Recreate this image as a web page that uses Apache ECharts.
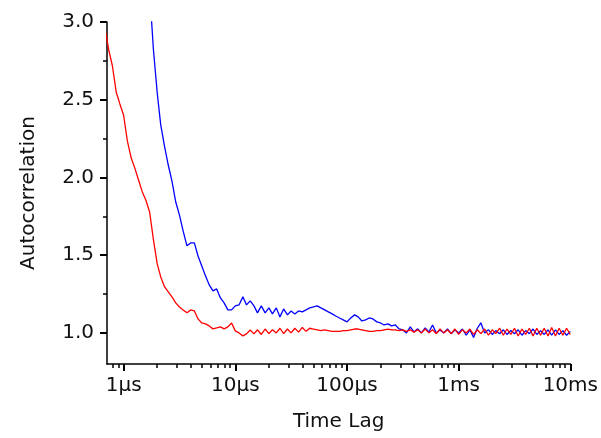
<!DOCTYPE html>
<html><head><meta charset="utf-8">
<script src="https://cdn.jsdelivr.net/npm/echarts@6/dist/echarts.min.js"></script>
<style>html,body{margin:0;padding:0;background:#fff}#c{width:601px;height:438px}</style>
</head><body><div id="c"></div>
<script>
// Time lag in microseconds
const lagUs = [0.681, 0.736, 0.794, 0.858, 0.926,
  1.00, 1.08, 1.17, 1.26, 1.36, 1.47, 1.58, 1.71, 1.85, 2.00, 2.15, 2.33, 2.51, 2.71, 2.93, 3.16, 3.41, 3.69, 3.98, 4.30, 4.64, 5.01, 5.41, 5.84, 6.31, 6.81, 7.36, 7.94, 8.58, 9.26,
  10.0, 10.8, 11.7, 12.6, 13.6, 14.7, 15.8, 17.1, 18.5, 20.0, 21.5, 23.3, 25.1, 27.1, 29.3, 31.6, 34.1, 36.9, 39.8, 43.0, 46.4, 50.1, 54.1, 58.4, 63.1, 68.1, 73.6, 79.4, 85.8, 92.6,
  100, 108, 117, 126, 136, 147, 158, 171, 185, 200, 215, 233, 251, 271, 293, 316, 341, 369, 398, 430, 464, 501, 541, 584, 631, 681, 736, 794, 858, 926,
  1000, 1080, 1170, 1260, 1360, 1470, 1580, 1710, 1850, 2000, 2150, 2330, 2510, 2710, 2930, 3160, 3410, 3690, 3980, 4300, 4640, 5010, 5410, 5840, 6310, 6810, 7360, 7940, 8580, 9260,
  10000];

const redVals = [2.96, 2.82, 2.717, 2.55, 2.473, 2.40, 2.235, 2.125, 2.06, 1.984, 1.907,
  1.855, 1.778, 1.598, 1.444, 1.36, 1.296, 1.264, 1.232, 1.193, 1.167,
  1.148, 1.129, 1.148, 1.141, 1.09, 1.064, 1.058, 1.045, 1.026, 1.032,
  1.039, 1.026, 1.039, 1.064, 1.013, 1.0, 0.981, 0.994, 1.019, 0.994,
  1.02, 0.99, 1.025, 0.995, 1.02, 1.0, 1.03, 0.995, 1.025, 1.0,
  1.03, 1.005, 1.035, 1.01, 1.03, 1.025, 1.02, 1.015, 1.02, 1.015,
  1.01, 1.01, 1.01, 1.015, 1.015, 1.02, 1.025, 1.025, 1.02, 1.015,
  1.01, 1.01, 1.015, 1.015, 1.02, 1.025, 1.02, 1.02, 1.015, 1.02,
  1.01, 1.02, 1.005, 1.02, 1.0, 1.025, 1.0, 1.02, 0.995, 1.025,
  1.0, 1.02, 0.995, 1.025, 0.99, 1.02, 1.0, 1.025, 0.99, 1.02,
  0.995, 1.025, 0.985, 1.02, 0.995, 1.03, 0.985, 1.025, 0.99, 1.03,
  0.98, 1.025, 0.99, 1.03, 0.98, 1.03, 0.985, 1.03, 0.98, 1.035,
  0.98, 1.03, 0.985, 1.03, 0.99];

const blueVals = [null, null, null, null, null, null, null, null, null, null, null, null,
  3.2, 2.82, 2.543, 2.338, 2.196, 2.08, 1.977, 1.842, 1.759,
  1.656, 1.56, 1.579, 1.579, 1.495, 1.431, 1.367, 1.309, 1.27, 1.283,
  1.225, 1.193, 1.148, 1.148, 1.174, 1.18, 1.232, 1.18, 1.206, 1.174,
  1.129, 1.174, 1.129, 1.161, 1.122, 1.161, 1.103, 1.154, 1.116, 1.141,
  1.122, 1.141, 1.135, 1.148, 1.161, 1.167, 1.174, 1.161, 1.148, 1.135,
  1.122, 1.109, 1.096, 1.084, 1.071, 1.096, 1.116, 1.103, 1.077, 1.084,
  1.096, 1.09, 1.071, 1.064, 1.051, 1.058, 1.045, 1.051, 1.026, 1.019,
  1.0, 1.039, 1.006, 1.026, 1.0, 1.032, 1.006, 1.051, 1.0, 1.019,
  1.0, 1.025, 0.995, 1.02, 1.0, 1.025, 0.985, 1.02, 0.97, 1.03,
  1.065, 1.0, 1.02, 0.99, 1.015, 0.995, 1.02, 0.99, 1.015, 0.995,
  1.02, 0.985, 1.015, 0.995, 1.025, 0.99, 1.015, 0.99, 1.02, 0.985,
  1.02, 0.99, 1.015, 0.985, 1.01];

const xMajorUs = [1, 10, 100, 1000, 10000];
const xMajorLabels = ['1\u00b5s', '10\u00b5s', '100\u00b5s', '1ms', '10ms'];
const xMinorUs = [0.8, 0.9, 2, 3, 4, 5, 6, 7, 8, 9, 20, 30, 40, 50, 60, 70, 80, 90,
  200, 300, 400, 500, 600, 700, 800, 900, 2000, 3000, 4000, 5000, 6000, 7000, 8000, 9000];
const yMajor = [1.0, 1.5, 2.0, 2.5, 3.0];
const yMinor = [1.25, 1.75, 2.25, 2.75];
const xMinUs = 0.71, xMaxUs = 10000, yMin = 0.8, yMax = 3.0;

const L = Math.log10;
const xMin = L(xMinUs), xMax = L(xMaxUs);
function pairs(vals) {
  const out = [];
  for (let i = 0; i < lagUs.length; i++) if (vals[i] != null) out.push([L(lagUs[i]), vals[i]]);
  return out;
}
function tickAxis(min, max, pos, values, len, w) {
  return {
    type: 'value', min: min, max: max, position: pos,
    axisLine: {show: false, onZero: false},
    axisTick: {show: true, customValues: values, length: len, lineStyle: {color: '#000', width: w}},
    axisLabel: {show: false},
    splitLine: {show: false}
  };
}
const font = 'DejaVu Sans';
const txt = '#111';
const chart = echarts.init(document.getElementById('c'), null, {renderer: 'canvas'});
chart.setOption({
  animation: false,
  backgroundColor: '#fff',
  grid: {left: 107, right: 30, top: 22, bottom: 74, containLabel: false},
  xAxis: [{
    type: 'value', min: xMin, max: xMax, position: 'bottom',
    name: 'Time Lag', nameLocation: 'middle', nameGap: 48,
    nameTextStyle: {fontFamily: font, fontSize: 20, color: txt},
    axisLine: {show: true, onZero: false, lineStyle: {color: '#000', width: 1.5}},
    axisTick: {show: false},
    axisLabel: {show: true, customValues: xMajorUs.map(L), margin: 12, fontFamily: font, fontSize: 20, color: txt,
      formatter: v => { for (let i = 0; i < xMajorUs.length; i++) if (Math.abs(L(xMajorUs[i]) - v) < 1e-6) return xMajorLabels[i]; return ''; }},
    splitLine: {show: false}
  },
  tickAxis(xMin, xMax, 'bottom', xMajorUs.map(L), 7, 2),
  tickAxis(xMin, xMax, 'bottom', xMinorUs.map(L), 4, 1.5)],
  yAxis: [{
    type: 'value', min: yMin, max: yMax, position: 'left',
    name: 'Autocorrelation', nameLocation: 'middle', nameGap: 68, nameRotate: 90,
    nameTextStyle: {fontFamily: font, fontSize: 20, color: txt},
    axisLine: {show: true, onZero: false, lineStyle: {color: '#000', width: 1.5}},
    axisTick: {show: false},
    axisLabel: {customValues: yMajor, margin: 13, fontFamily: font, fontSize: 20, color: txt,
      formatter: v => v.toFixed(1)},
    splitLine: {show: false}
  },
  tickAxis(yMin, yMax, 'left', yMajor, 7, 2),
  tickAxis(yMin, yMax, 'left', yMinor, 4, 1.5)],
  series: [{
    type: 'line', name: 'blue', data: pairs(blueVals), showSymbol: false, symbol: 'none',
    lineStyle: {color: '#0000ff', width: 1.3}, clip: true, xAxisIndex: 0, yAxisIndex: 0
  }, {
    type: 'line', name: 'red', data: pairs(redVals), showSymbol: false, symbol: 'none',
    lineStyle: {color: '#ff0000', width: 1.3}, clip: true, xAxisIndex: 0, yAxisIndex: 0
  }]
});
</script>
</body></html>
